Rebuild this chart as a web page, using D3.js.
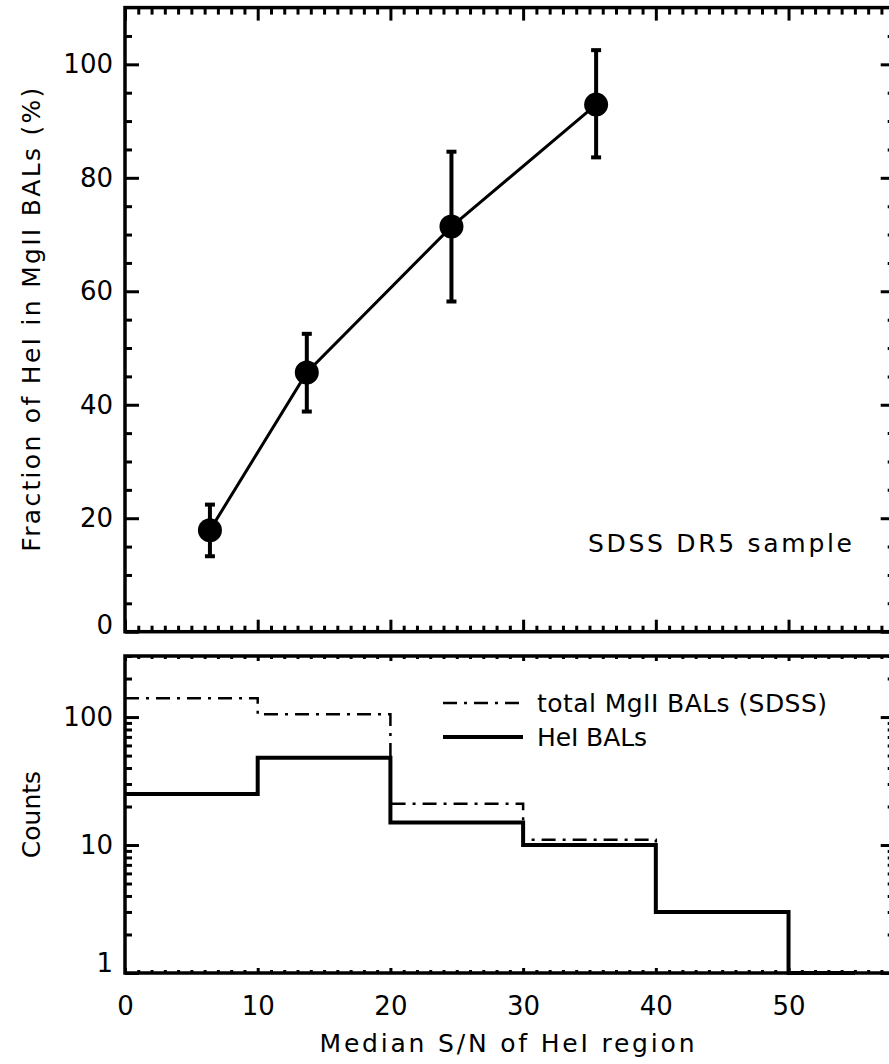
<!DOCTYPE html>
<html>
<head>
<meta charset="utf-8">
<script src="https://cdn.jsdelivr.net/npm/d3@7"></script>
<style>
  body { margin: 0; background: #fff; }
  text { font-family: "DejaVu Sans", sans-serif; fill: #000; }
</style>
</head>
<body>
<div id="chart"></div>
<script>
// data declaration
const w = 889;
const h = 1064;

// top panel: fraction of HeI in MgII BALs vs median S/N
const snMid = [6.4, 13.7, 24.6, 35.5];
const fraction = [17.9, 45.7, 71.4, 92.9];
const fracLow = [13.3, 38.8, 58.2, 83.6];
const fracHigh = [22.4, 52.5, 84.6, 102.5];

// bottom panel: histograms
const binEdges = [0, 10, 20, 30, 40, 50, 55];
const totalCounts = [140, 105, 21, 11, 3, 1];
const heiCounts = [25, 48, 15, 10, 3, 1];

// tick labels
const xTicks = [0, 10, 20, 30, 40, 50];
const fracTicks = [0, 20, 40, 60, 80, 100];
const countTicks = [1, 10, 100];

const left = 125, right = 894.7;
const topY0 = 7.6, topY1 = 631.7;
const botY0 = 656, botY1 = 973;

const svg = d3.select("#chart").append("svg").attr("width", w).attr("height", h);

// scales
const xScale = d3.scaleLinear().domain([0, 58]).range([left, right]);
const yFrac = d3.scaleLinear().domain([0, 110]).range([topY1, topY0]);
const yCount = d3.scaleLog().domain([1, 300]).range([botY1, botY0]);

// minor tick values
const xMinor = d3.range(0, 59, 1).filter(v => v % 10 !== 0);
const fracMinor = d3.range(5, 110, 5).filter(v => v % 20 !== 0);
const countMinor = [];
[1, 10, 100].forEach(dec => {
  for (let m = 2; m <= 9; m++) if (m * dec <= 300) countMinor.push(m * dec);
});

// helper to draw an axis with inward ticks
function drawAxis(axisFn, scale, transform, values, size, fmt, pad) {
  const g = svg.append("g")
    .attr("transform", transform)
    .call(axisFn(scale).tickValues(values).tickSize(-size)
      .tickPadding(pad || 0).tickFormat(fmt || (() => "")));
  g.select(".domain").remove();
  g.selectAll(".tick line").attr("stroke", "#000").attr("stroke-width", 3);
  g.selectAll(".tick text").style("font-size", "26px").attr("fill", "#000");
  return g;
}

// ---- top panel axes
drawAxis(d3.axisBottom, xScale, `translate(0,${topY1})`, xTicks, 12);
drawAxis(d3.axisBottom, xScale, `translate(0,${topY1})`, xMinor, 6);
drawAxis(d3.axisTop, xScale, `translate(0,${topY0})`, xTicks, 13);
drawAxis(d3.axisTop, xScale, `translate(0,${topY0})`, xMinor, 7);
const fracAxis = drawAxis(d3.axisLeft, yFrac, `translate(${left},0)`, fracTicks, 14, d3.format("d"), 12);
fracAxis.selectAll(".tick text").filter(d => d === 0).attr("dy", "0.05em");
drawAxis(d3.axisLeft, yFrac, `translate(${left},0)`, fracMinor, 7);
drawAxis(d3.axisRight, yFrac, `translate(${right},0)`, fracTicks, 14);
drawAxis(d3.axisRight, yFrac, `translate(${right},0)`, fracMinor, 7);

svg.append("rect")
  .attr("x", left).attr("y", topY0)
  .attr("width", right - left).attr("height", topY1 - topY0)
  .attr("fill", "none").attr("stroke", "#000").attr("stroke-width", 3.5);

// ---- bottom panel axes
drawAxis(d3.axisBottom, xScale, `translate(0,${botY1})`, xTicks, 5, d3.format("d"), 24);
drawAxis(d3.axisBottom, xScale, `translate(0,${botY1})`, xMinor, 3);
drawAxis(d3.axisTop, xScale, `translate(0,${botY0})`, xTicks, 5);
drawAxis(d3.axisTop, xScale, `translate(0,${botY0})`, xMinor, 3);
const countAxis = drawAxis(d3.axisLeft, yCount, `translate(${left},0)`, countTicks, 14, d3.format("d"), 12);
countAxis.selectAll(".tick text").filter(d => d === 1).attr("dy", "-0.05em");
drawAxis(d3.axisLeft, yCount, `translate(${left},0)`, countMinor, 7);
drawAxis(d3.axisRight, yCount, `translate(${right},0)`, countTicks, 14);
drawAxis(d3.axisRight, yCount, `translate(${right},0)`, countMinor, 7);

svg.append("rect")
  .attr("x", left).attr("y", botY0)
  .attr("width", right - left).attr("height", botY1 - botY0)
  .attr("fill", "none").attr("stroke", "#000").attr("stroke-width", 3.5);

// ---- top panel data
const pts = snMid.map((x, i) => ({ x, y: fraction[i], lo: fracLow[i], hi: fracHigh[i] }));

svg.append("path")
  .datum(pts)
  .attr("fill", "none").attr("stroke", "#000").attr("stroke-width", 3)
  .attr("d", d3.line().x(d => xScale(d.x)).y(d => yFrac(d.y)));

const eb = svg.append("g").attr("stroke", "#000").attr("stroke-width", 4);
eb.selectAll(".v").data(pts).enter().append("line")
  .attr("x1", d => xScale(d.x)).attr("x2", d => xScale(d.x))
  .attr("y1", d => yFrac(d.lo)).attr("y2", d => yFrac(d.hi));
eb.selectAll(".capHi").data(pts).enter().append("line")
  .attr("x1", d => xScale(d.x) - 5).attr("x2", d => xScale(d.x) + 5)
  .attr("y1", d => yFrac(d.hi)).attr("y2", d => yFrac(d.hi));
eb.selectAll(".capLo").data(pts).enter().append("line")
  .attr("x1", d => xScale(d.x) - 5).attr("x2", d => xScale(d.x) + 5)
  .attr("y1", d => yFrac(d.lo)).attr("y2", d => yFrac(d.lo));

svg.selectAll(".pt").data(pts).enter().append("circle")
  .attr("cx", d => xScale(d.x)).attr("cy", d => yFrac(d.y))
  .attr("r", 12).attr("fill", "#000");

svg.append("text")
  .attr("x", 852).attr("y", 552)
  .attr("text-anchor", "end")
  .attr("textLength", 264).attr("lengthAdjust", "spacing")
  .style("font-size", "25px")
  .text("SDSS DR5 sample");

// ---- bottom panel histograms
const stepPts = counts => {
  const p = counts.map((c, i) => [binEdges[i], c]);
  p.push([binEdges[binEdges.length - 1], counts[counts.length - 1]]);
  return p;
};
const histLine = d3.line()
  .x(d => xScale(d[0])).y(d => yCount(d[1]))
  .curve(d3.curveStepAfter);

svg.append("path")
  .attr("d", histLine(stepPts(totalCounts)))
  .attr("fill", "none").attr("stroke", "#000").attr("stroke-width", 2.5)
  .attr("stroke-dasharray", "14,7,3,7");

svg.append("path")
  .attr("d", histLine(stepPts(heiCounts)))
  .attr("fill", "none").attr("stroke", "#000").attr("stroke-width", 4);

// legend
const legend = svg.append("g");
legend.append("line")
  .attr("x1", 443).attr("x2", 523).attr("y1", 703).attr("y2", 703)
  .attr("stroke", "#000").attr("stroke-width", 2.5)
  .attr("stroke-dasharray", "14,7,3,7");
legend.append("text")
  .attr("x", 537).attr("y", 703).attr("dy", "0.35em")
  .attr("textLength", 290).attr("lengthAdjust", "spacing")
  .style("font-size", "25px")
  .text("total MgII BALs (SDSS)");
legend.append("line")
  .attr("x1", 443).attr("x2", 523).attr("y1", 737).attr("y2", 737)
  .attr("stroke", "#000").attr("stroke-width", 4);
legend.append("text")
  .attr("x", 537).attr("y", 737).attr("dy", "0.35em")
  .attr("textLength", 110).attr("lengthAdjust", "spacing")
  .style("font-size", "25px")
  .text("HeI BALs");

// axis titles
svg.append("text")
  .attr("transform", `translate(40,${(topY0 + topY1) / 2}) rotate(-90)`)
  .attr("text-anchor", "middle")
  .attr("textLength", 464).attr("lengthAdjust", "spacing")
  .style("font-size", "25px")
  .text("Fraction of HeI in MgII BALs (%)");

svg.append("text")
  .attr("transform", `translate(40,${(botY0 + botY1) / 2}) rotate(-90)`)
  .attr("text-anchor", "middle")
  .style("font-size", "25px")
  .text("Counts");

svg.append("text")
  .attr("x", 507).attr("y", 1052)
  .attr("text-anchor", "middle")
  .attr("textLength", 375).attr("lengthAdjust", "spacing")
  .style("font-size", "25px")
  .text("Median S/N of HeI region");
</script>
</body>
</html>
